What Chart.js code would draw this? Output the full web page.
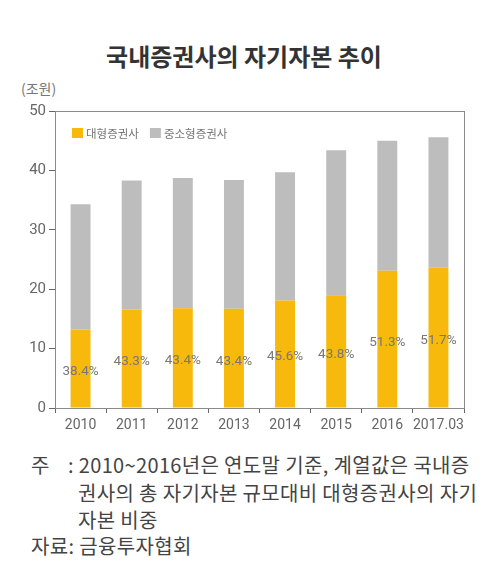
<!DOCTYPE html>
<html><head><meta charset="utf-8">
<script src="https://cdn.jsdelivr.net/npm/chart.js@4"></script>
<style>
html,body{margin:0;padding:0;background:#fff;}
body{width:499px;height:580px;position:relative;overflow:hidden;font-family:"Noto Sans CJK KR","Noto Sans",sans-serif;}
#title{position:absolute;left:0;width:488px;top:39px;text-align:center;font-size:24px;line-height:34px;font-weight:bold;color:#333;}
#unit{position:absolute;left:21px;top:78px;font-size:14px;line-height:20px;color:#777;}
#wrap{position:absolute;left:0;top:0;width:499px;height:440px;}
.note{position:absolute;font-size:20px;line-height:26px;color:#444;white-space:nowrap;letter-spacing:0.35px;}
</style></head>
<body>
<div id="title">국내증권사의 자기자본 추이</div>
<div id="unit">(조원)</div>
<div id="wrap"><canvas id="c"></canvas></div>
<div class="note" style="left:31px;top:452px;">주</div>
<div class="note" style="left:68px;top:452px;">: 2010~2016년은 연도말 기준, 계열값은 국내증</div>
<div class="note" style="left:78px;top:480px;">권사의 총 자기자본 규모대비 대형증권사의 자기</div>
<div class="note" style="left:78px;top:507px;">자본 비중</div>
<div class="note" style="left:31px;top:533px;">자료: 금융투자협회</div>
<script>
const categories = ["2010","2011","2012","2013","2014","2015","2016","2017.03"];
const largeFirms = [13.2, 16.6, 16.8, 16.7, 18.1, 19.0, 23.1, 23.6];
const smallMidFirms = [21.1, 21.7, 21.9, 21.7, 21.6, 24.4, 21.9, 22.0];
const shareLabels = ["38.4%","43.3%","43.4%","43.4%","45.6%","43.8%","51.3%","51.7%"];
const seriesNames = ["대형증권사","중소형증권사"];
const yTicks = [0,10,20,30,40,50];

const frame = {
  id:'frame',
  afterDatasetsDraw(chart){
    const {ctx, chartArea:a} = chart;
    ctx.save();
    ctx.strokeStyle='#8a8a8a'; ctx.lineWidth=1;
    ctx.strokeRect(Math.round(a.left)+0.5, Math.round(a.top)+0.5, Math.round(a.right-a.left), Math.round(a.bottom-a.top));
    // share labels
    const meta = chart.getDatasetMeta(0);
    ctx.fillStyle='#777'; ctx.font='13.5px Roboto, "Noto Sans", sans-serif';
    ctx.textAlign='center'; ctx.textBaseline='middle';
    meta.data.forEach((bar,i)=>{
      const cy = (bar.y + bar.base)/2 + 3;
      ctx.fillText(shareLabels[i], bar.x, cy);
    });
    // legend inside
    const ds = chart.data.datasets;
    let x = a.left + 17, y = a.top + 22;
    ctx.textAlign='left'; ctx.font='11.5px "Noto Sans CJK KR", sans-serif';
    ds.forEach((d,i)=>{
      ctx.fillStyle=d.backgroundColor; ctx.fillRect(x, y-5, 11, 10);
      ctx.fillStyle='#777'; ctx.fillText(d.label, x+14, y+1);
      x += 14 + ctx.measureText(d.label).width + 11;
    });
    ctx.restore();
  }
};

new Chart(document.getElementById('c'), {
  type:'bar',
  data:{
    labels:categories,
    datasets:[
      {label:seriesNames[0], data:largeFirms, backgroundColor:'#F6B90C', barPercentage:0.39, categoryPercentage:1},
      {label:seriesNames[1], data:smallMidFirms, backgroundColor:'#BDBDBD', barPercentage:0.39, categoryPercentage:1}
    ]
  },
  options:{
    responsive:true, maintainAspectRatio:false, animation:false,
    layout:{padding:{top:111,right:35,left:0,bottom:0}},
    plugins:{legend:{display:false}, title:{display:false}, tooltip:{enabled:false}},
    scales:{
      x:{stacked:true, offset:true,
        grid:{offset:true, drawOnChartArea:false, tickLength:5, color:'#666'},
        border:{color:'#8a8a8a'},
        ticks:{color:'#666', font:{size:14, family:'Roboto'}, padding:4, maxRotation:0, autoSkip:false},
        afterFit(s){ s.height = 32; }
      },
      y:{stacked:true, min:0, max:50,
        afterBuildTicks(s){ s.ticks = yTicks.map(v=>({value:v})); },
        grid:{drawOnChartArea:false, tickLength:6, color:'#666'},
        border:{color:'#8a8a8a'},
        ticks:{color:'#666', font:{size:15, family:'Roboto'}, padding:3},
        afterFit(s){ s.width = 55; }
      }
    }
  },
  plugins:[frame]
});
</script>
</body></html>
